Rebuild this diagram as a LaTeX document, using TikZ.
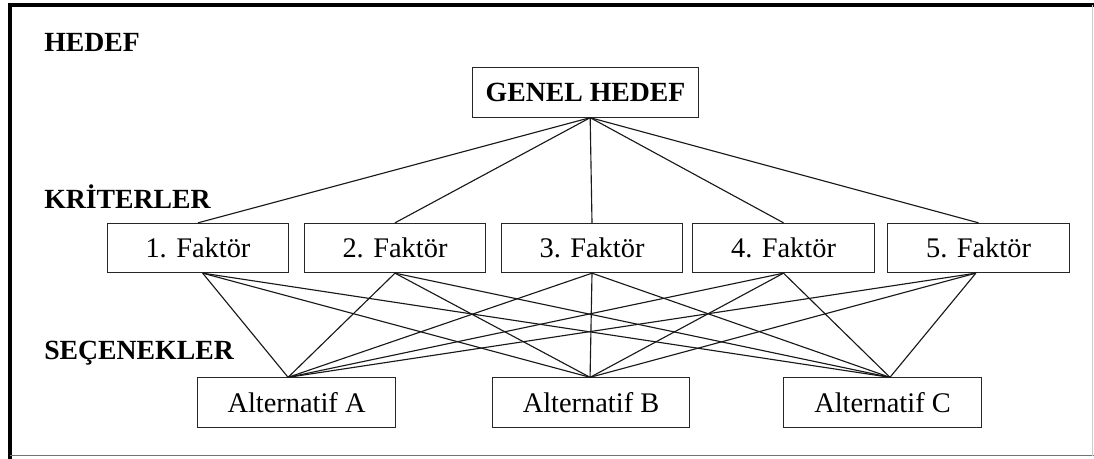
\documentclass[tikz,border=0pt]{standalone}
\usepackage{fontspec}
\setmainfont{Liberation Serif}
\begin{document}
\begin{tikzpicture}[x=0.75pt,y=-0.75pt,
  box/.style={draw=black!85,line width=0.85pt,minimum height=36.9pt,inner sep=0pt,font=\fontsize{21.3}{25}\selectfont},
  faktor/.style={box,minimum width=136pt},
  alt/.style={box,minimum width=148pt},
  level/.style={anchor=west,inner sep=0pt,font=\fontsize{20.8}{25}\selectfont\bfseries},
  link/.style={line width=0.85pt,black!90}]
\useasboundingbox (0,0) rectangle (1094,459);
% outer frame
\draw[line width=2.6pt,black] (1094,5) -- (10,5) -- (10,459);
\draw[line width=0.8pt,black!55] (10,455.5) -- (1094,455.5);
\draw[line width=0.6pt,black!20] (1092.5,5) -- (1092.5,455.5);

% level titles
\node[level] (lh) at (44,42) {HEDEF};
\node[level] (lk) at (44,197) {KRİTERLER};
\node[level] (ls) at (44,353) {SEÇENEKLER};

% goal
\node[box,minimum width=169pt,font=\fontsize{20.8}{25}\selectfont\bfseries] (g) at (585.5,92.5) {GENEL HEDEF};

% criteria
\node[faktor] (f1) at (198,248) {1. Faktör};
\node[faktor] (f2) at (395,248) {2. Faktör};
\node[faktor] (f3) at (592,248) {3. Faktör};
\node[faktor] (f4) at (783.5,248) {4. Faktör};
\node[faktor] (f5) at (978.5,248) {5. Faktör};

% alternatives
\node[alt] (a) at (296.5,402.5) {Alternatif A};
\node[alt] (b) at (591,402.5) {Alternatif B};
\node[alt] (c) at (882.5,402.5) {Alternatif C};

% connection points
\coordinate (gb) at ([xshift=3.5pt]g.south);
\coordinate (f1b) at ([xshift=3.5pt]f1.south);
\coordinate (f5b) at ([xshift=-2pt]f5.south);
\coordinate (at) at ([xshift=-6.3pt]a.north);
\coordinate (bt) at ([xshift=-0.7pt]b.north);
\coordinate (ct) at ([xshift=5.6pt]c.north);

% goal to criteria
\foreach \f in {f1,f2,f3,f4,f5}
  \draw[link] (gb) -- (\f.north);

% criteria to alternatives
\foreach \s in {f1b,f2.south,f3.south,f4.south,f5b}
  \foreach \t in {at,bt,ct}
    \draw[link] (\s) -- (\t);
\end{tikzpicture}
\end{document}
